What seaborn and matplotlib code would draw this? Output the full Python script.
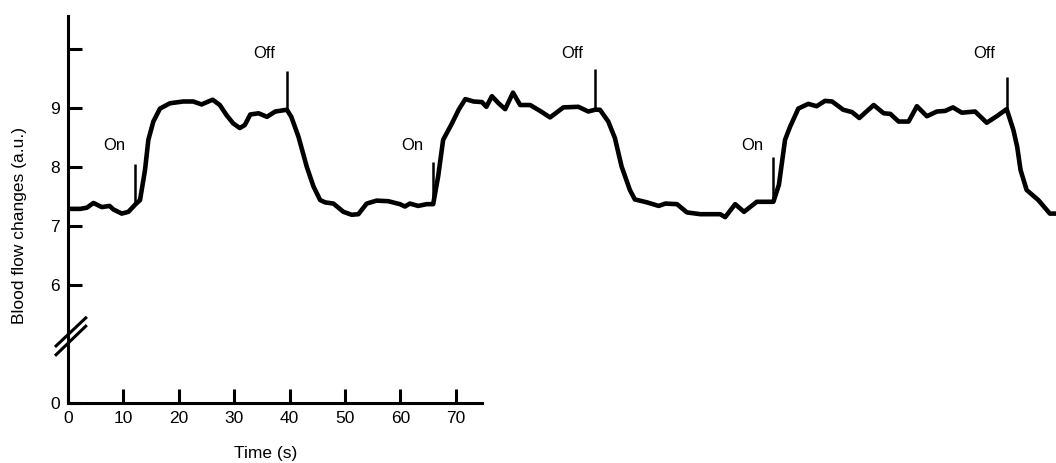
import numpy as np
import pandas as pd
import matplotlib
matplotlib.use("Agg")
import matplotlib.pyplot as plt
import seaborn as sns

# Laser-Doppler style blood flow trace (arbitrary units) over three stimulation cycles
time_s = [
    0.0, 2.2, 3.4, 4.6, 6.1, 7.5, 8.2, 9.7, 10.9, 12.1,
    13.0, 13.9, 14.5, 15.4, 16.6, 18.4, 20.8, 22.6, 24.1, 26.1,
    27.4, 28.6, 29.8, 31.0, 31.9, 32.9, 34.4, 35.9, 37.4, 39.5,
    40.3, 41.6, 43.1, 44.3, 45.5, 46.4, 47.9, 49.7, 51.2, 52.4,
    53.9, 55.7, 57.8, 59.9, 60.8, 61.7, 63.2, 64.7, 65.9, 66.8,
    67.7, 69.3, 70.5, 71.7, 73.2, 74.7, 75.5, 76.5, 77.7, 78.9,
    80.3, 81.6, 83.4, 85.2, 87.0, 89.4, 92.1, 93.9, 95.1, 96.0,
    97.5, 98.7, 99.9, 101.4, 102.3, 104.5, 106.6, 107.8, 109.9, 111.7,
    114.1, 117.7, 118.6, 120.4, 122.0, 124.3, 127.3, 128.3, 129.4, 130.3,
    131.8, 133.6, 135.1, 136.6, 137.9, 139.9, 141.5, 142.8, 145.4, 147.2,
    148.4, 149.9, 151.7, 153.2, 155.0, 156.8, 158.3, 159.7, 161.3, 163.7,
    165.8, 167.6, 169.4, 170.6, 171.3, 171.9, 173.0, 175.1, 177.2, 178.3,
]
flow_au = [
    7.29, 7.29, 7.31, 7.39, 7.32, 7.34, 7.28, 7.21, 7.24, 7.36,
    7.44, 7.95, 8.46, 8.77, 8.99, 9.08, 9.11, 9.11, 9.06, 9.14,
    9.05, 8.88, 8.74, 8.66, 8.71, 8.89, 8.91, 8.85, 8.94, 8.97,
    8.85, 8.51, 8.00, 7.67, 7.44, 7.40, 7.38, 7.24, 7.19, 7.20,
    7.38, 7.43, 7.42, 7.37, 7.33, 7.38, 7.34, 7.37, 7.37, 7.84,
    8.46, 8.74, 8.97, 9.15, 9.11, 9.10, 9.02, 9.20, 9.08, 8.98,
    9.26, 9.05, 9.05, 8.95, 8.84, 9.01, 9.02, 8.94, 8.97, 8.97,
    8.77, 8.49, 8.01, 7.61, 7.45, 7.40, 7.34, 7.38, 7.37, 7.23,
    7.20, 7.20, 7.15, 7.37, 7.24, 7.41, 7.41, 7.70, 8.46, 8.68,
    8.99, 9.07, 9.03, 9.12, 9.11, 8.97, 8.93, 8.83, 9.05, 8.91,
    8.90, 8.77, 8.77, 9.03, 8.86, 8.94, 8.95, 9.01, 8.92, 8.94,
    8.75, 8.86, 8.98, 8.63, 8.34, 7.95, 7.61, 7.44, 7.21, 7.21,
]

# Stimulus event markers
on_times = [12.1, 65.9, 127.3]
on_tops = [8.05, 8.09, 8.17]
off_times = [39.5, 95.1, 169.4]
off_tops = [9.62, 9.66, 9.53]

x_ticks = [0, 10, 20, 30, 40, 50, 60, 70]
# The axis is broken: the lowest tick sits at 4 on the scale but reads "0"
y_ticks = [4, 6, 7, 8, 9, 10]
y_tick_labels = ["0", "6", "7", "8", "9", ""]

sns.set_theme(style="ticks")
plt.rcParams["font.family"] = ["Liberation Sans", "DejaVu Sans"]
plt.rcParams["axes.linewidth"] = 2.2
plt.rcParams["text.color"] = "black"
plt.rcParams["axes.labelcolor"] = "black"
plt.rcParams["xtick.color"] = "black"
plt.rcParams["ytick.color"] = "black"

fig = plt.figure(figsize=(10.56, 4.63), dpi=100)
ax = fig.add_axes([68 / 1056, 60 / 463, 1 - 68 / 1056, 403 / 463])

df = pd.DataFrame({"Time (s)": time_s, "Flow": flow_au})
sns.lineplot(data=df, x="Time (s)", y="Flow", ax=ax, color="black",
             linewidth=3.3, estimator=None, sort=False,
             solid_joinstyle="round", solid_capstyle="round")

# Event markers rise from the trace
on_base = np.interp(on_times, time_s, flow_au)
off_base = np.interp(off_times, time_s, flow_au)
ax.vlines(on_times, on_base, on_tops, color="black", linewidth=1.8)
ax.vlines(off_times, off_base, off_tops, color="black", linewidth=1.8)

for t in on_times:
    ax.text(t - 3.8, 8.36, "On", ha="center", va="center", fontsize=12,
            color="black")
for t in off_times:
    ax.text(t - 4.1, 9.92, "Off", ha="center", va="center", fontsize=12,
            color="black")

ax.set_xlim(0, 178.3)
ax.set_ylim(4, 10.83)
ax.spines["top"].set_visible(False)
ax.spines["right"].set_visible(False)
ax.spines["left"].set_bounds(4, 10.56)
ax.spines["bottom"].set_bounds(0, 74.7)
ax.spines["left"].set_color("black")
ax.spines["bottom"].set_color("black")

ax.set_xticks(x_ticks)
ax.set_yticks(y_ticks)
ax.set_yticklabels(y_tick_labels)
ax.tick_params(axis="both", direction="in", length=10, width=2.2,
               colors="black", labelcolor="black", labelsize=12.5, pad=6)

ax.set_xlabel("")
ax.set_ylabel("")
ax.text(35.6, -0.125, "Time (s)", transform=ax.get_xaxis_transform(),
        ha="center", va="center", fontsize=12.5, color="black")
fig.text(20 / 1056, 1 - 226 / 463, "Blood flow changes (a.u.)",
         rotation=90, ha="center", va="center", fontsize=12.5, color="black")

# Axis-break slashes
for y0, y1 in [(4.80, 5.32), (4.95, 5.46)]:
    ax.plot([-2.35, 3.4], [y0, y1], color="black", linewidth=2.2,
            clip_on=False, solid_capstyle="butt")

fig.savefig("out.png", dpi=100, facecolor="white")
